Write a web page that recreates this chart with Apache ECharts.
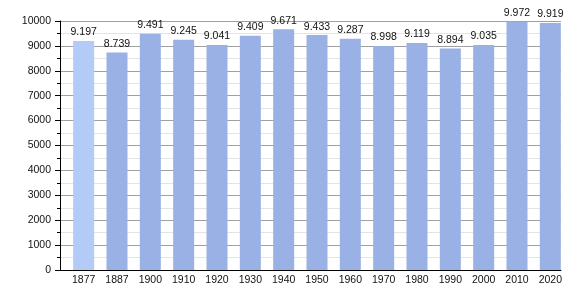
<!DOCTYPE html>
<html><head><meta charset="utf-8">
<script src="https://cdn.jsdelivr.net/npm/echarts@6/dist/echarts.min.js"></script>
<style>html,body{margin:0;padding:0;background:#fff}#c{width:580px;height:300px}</style>
</head><body><div id="c"></div>
<script>
const categories = ['1877','1887','1900','1910','1920','1930','1940','1950','1960','1970','1980','1990','2000','2010','2020'];
const population = [9197,8739,9491,9245,9041,9409,9671,9433,9287,8998,9119,8894,9035,9972,9919];
const yTicks = {min:0, max:10000, interval:1000};

const font = 'Liberation Sans, Arial, sans-serif';
const chart = echarts.init(document.getElementById('c'), null, {renderer:'canvas'});
const fmt = v => String(v).replace(/\B(?=(\d{3})+(?!\d))/g, '.');
chart.setOption({
  animation:false,
  grid:[
    {left:60, right:19, top:21, bottom:30},
    {left:67, right:13, top:21, bottom:30}
  ],
  xAxis:[
    {gridIndex:0, type:'category', data:categories, axisLine:{show:true, lineStyle:{color:'#000', width:1}}, axisTick:{show:false}, axisLabel:{show:false}, z:5},
    {gridIndex:1, type:'category', data:categories, axisLine:{show:false}, axisTick:{show:false},
     axisLabel:{color:'#111', fontSize:10.5, fontFamily:font, margin:5}}
  ],
  yAxis:[
    {gridIndex:0, type:'value', min:yTicks.min, max:yTicks.max, interval:yTicks.interval,
     axisLine:{show:true, lineStyle:{color:'#000', width:1}},
     axisTick:{show:true, length:5, lineStyle:{color:'#000'}},
     minorTick:{show:true, splitNumber:2, length:3, lineStyle:{color:'#000'}},
     splitLine:{show:true, lineStyle:{color:'#a0a0a0', width:1}},
     minorSplitLine:{show:true, lineStyle:{color:'#e4e4e4', width:1}},
     axisLabel:{color:'#111', fontSize:10.5, fontFamily:font, margin:9, formatter:v=>String(v)}},
    {gridIndex:1, type:'value', min:yTicks.min, max:yTicks.max, interval:yTicks.interval, show:false}
  ],
  series:[{
    type:'bar', xAxisIndex:1, yAxisIndex:1, barWidth:21,
    data: population.map((v,i)=>({value:v, itemStyle:{color: i===0 ? '#b3cbf6' : '#99b1e4'}})),
    label:{show:true, position:'top', distance:3, color:'#111', fontSize:10.5, fontFamily:font, formatter:p=>fmt(p.value)},
    z:3
  }]
});
</script></body></html>
